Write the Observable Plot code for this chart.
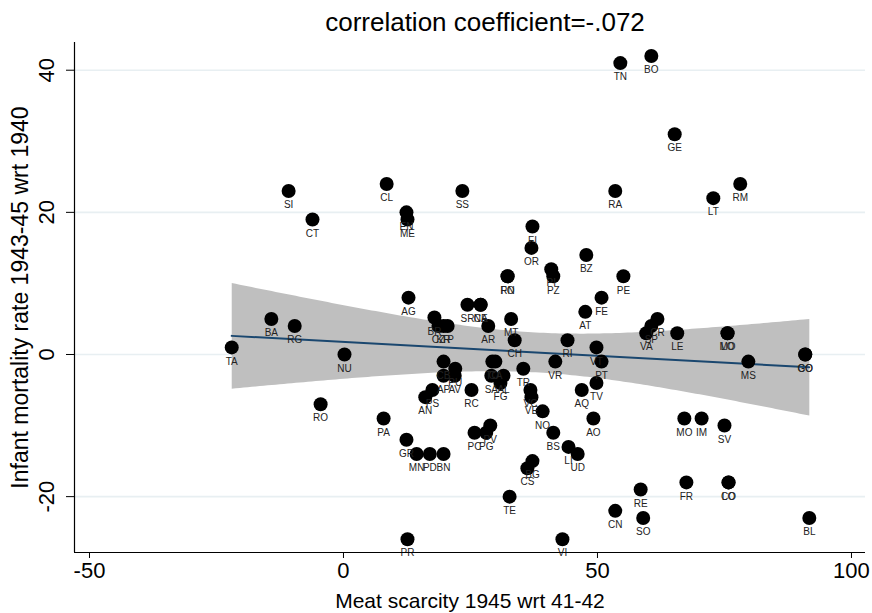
<!DOCTYPE html>
<html>
<head>
<meta charset="utf-8">
<script src="https://cdn.jsdelivr.net/npm/d3@7"></script>
<script src="https://cdn.jsdelivr.net/npm/@observablehq/plot@0.6"></script>
<style>
  html, body { margin: 0; padding: 0; background: #fff; }
</style>
</head>
<body>
<div id="chart"></div>
<script>
// Province codes, meat scarcity (x) and infant mortality change (y)
const labels = ["TA","BA","RG","SI","CT","CL","EN","ME","SS","NU","RO","PA","AG","GR","MN","PD","BN","PR",
  "CN","RE","SO","FR","CO","LO","BL","TN","BO","GE","RA","LT","RM","BZ","PE","FE","AT","VA","SP","CR","LE",
  "LO","MO","MS","GO","CO","RI","VT","PT","VR","TV","AQ","AO","MO","IM","SV","BS","LI","UD","CS","BG","TE",
  "VI","NO","VC","VE","TR","CH","MT","AR","SR","NA","CE","FO","RN","FI","OR","PI","PZ","BR","CZ","KR","TP",
  "CB","PU","AP","AV","PS","AN","RC","TO","CA","SA","AL","FG","PC","PG","PV"];
const meat = [-22,-14.2,-9.6,-10.8,-6.1,8.5,12.4,12.6,23.4,0.2,-4.5,7.9,12.8,12.4,14.4,17,19.7,12.6,
  53.5,58.5,59,67.5,75.8,75.8,91.7,54.5,60.6,65.2,53.5,72.8,78.1,47.8,55.1,50.8,47.6,59.6,60.6,61.8,65.7,
  75.6,75.6,79.7,90.9,90.9,44.1,49.8,50.8,41.7,49.8,46.9,49.2,67.1,70.5,75,41.3,44.3,46.1,36.2,37.2,32.7,
  43.1,39.2,36.8,37,35.4,33.7,33,28.5,24.4,27,27,32.3,32.3,37.2,37,40.9,41.3,17.9,18.7,19.7,20.5,
  19.7,22,19.7,21.9,17.5,16.1,25.2,29.3,29.9,29.1,31.5,30.9,25.8,28.1,28.9];
const infant = [1,5,4,23,19,24,20,19,23,0,-7,-9,8,-12,-14,-14,-14,-26,
  -22,-19,-23,-18,-18,-18,-23,41,42,31,23,22,24,14,11,8,6,3,4,5,3,
  3,3,-1,0,0,2,1,-1,-1,-4,-5,-9,-9,-9,-10,-11,-13,-14,-16,-15,-20,
  -26,-8,-5,-6,-2,2,5,4,7,7,7,11,11,18,15,12,11,5.2,4,4,4,
  -1,-2,-3,-3,-5,-6,-5,-1,-1,-3,-3,-4,-11,-11,-10];
const xTicks = [-50, 0, 50, 100];
const yTicks = [-20, 0, 20, 40];
const titleText = "correlation coefficient=-.072";
const xTitle = "Meat scarcity 1945 wrt 41-42";
const yTitle = "Infant mortality rate 1943-45 wrt 1940";

const data = labels.map((l, i) => ({label: l, x: meat[i], y: infant[i]}));
const xDomain = [-52.95, 102.76];
const yDomain = [-27.86, 43.9];
const font = "'Liberation Sans', Arial, Helvetica, sans-serif";

const chart = Plot.plot({
  width: 872,
  height: 613,
  marginLeft: 74,
  marginRight: 7,
  marginTop: 42,
  marginBottom: 61,
  style: {fontFamily: font, background: "#fff", color: "#000"},
  x: {domain: xDomain, axis: null},
  y: {domain: yDomain, axis: null},
  marks: [
    Plot.ruleY(yTicks, {stroke: "#e8eff2", strokeWidth: 1.6}),
    Plot.linearRegressionY(data, {x: "x", y: "y", fill: "#bfbfbf", fillOpacity: 1, stroke: "#1a476f", strokeWidth: 2, ci: 0.95}),
    Plot.dot(data, {x: "x", y: "y", r: 7, fill: "#000", stroke: "none"}),
    Plot.text(data, {x: "x", y: "y", text: "label", dy: 14, fontSize: 10, fill: "#222"}),
    Plot.ruleX([xDomain[0]], {stroke: "#000", strokeWidth: 1.2}),
    Plot.ruleY([yDomain[0]], {stroke: "#000", strokeWidth: 1.2}),
    Plot.axisX(xTicks, {tickSize: 6, tickPadding: 4, fontSize: 22, tickFormat: d => String(d), label: null, stroke: "#000"}),
    Plot.axisY(yTicks, {tickSize: 8, tickFormat: () => "", label: null, stroke: "#000"}),
    Plot.text(yTicks, {y: d => d, text: d => String(d), frameAnchor: "left", textAnchor: "middle", dx: -28, rotate: -90, fontSize: 22, fill: "#000"}),
    Plot.text([titleText], {frameAnchor: "top", textAnchor: "middle", dx: 15, dy: -30, fontSize: 26, fill: "#000"}),
    Plot.text([xTitle], {frameAnchor: "bottom", textAnchor: "middle", dy: 55, fontSize: 21, fill: "#000"}),
    Plot.text([yTitle], {frameAnchor: "left", textAnchor: "middle", dx: -54, rotate: -90, fontSize: 23, fill: "#000"})
  ]
});
document.getElementById("chart").appendChild(chart);
</script>
</body>
</html>
